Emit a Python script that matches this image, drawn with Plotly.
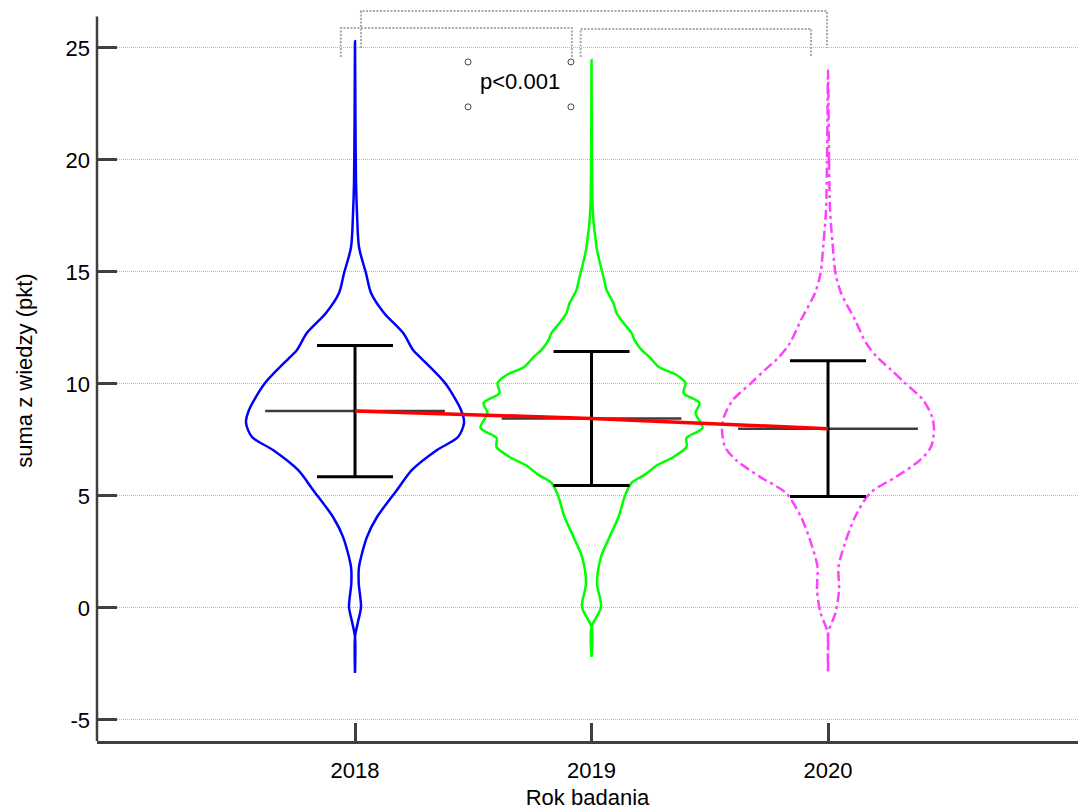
import plotly.graph_objects as go

# ---------------- data ----------------
years = [2018, 2019, 2020]
year_labels = ["2018", "2019", "2020"]
means = [8.79, 8.46, 8.00]
sds = [2.93, 2.99, 3.03]

# violin outlines: y level and relative half-width (density)
v2018_y = [25.3, 22.0, 19.0, 17.6, 16.1, 14.94, 14.06, 13.17, 12.28, 11.52, 11.2, 10.04,
           8.84, 8.26, 7.63, 7.05, 6.16, 5.27, 4.06, 3.17, 1.83, 1.1, 0.04, -0.67, -1.3, -2.9]
v2018_w = [0, 0.4, 1, 2, 4, 11, 16, 29, 48, 58, 65, 90,
           106, 109, 103, 82, 57, 42, 22, 12, 4, 3.7, 6, 2.7, 0, 0]

v2019_y = [24.46, 21.0, 18.0, 17.0, 16.5, 15.98, 15.24, 14.64, 14.2, 13.6, 13.17, 12.72, 12.28,
           11.96, 11.52, 11.2, 10.77, 10.4, 10.04, 9.6, 9.15, 8.7, 8.04, 7.59, 7.19, 6.74,
           6.38, 5.94, 5.58, 4.96, 4.5, 4.06, 3.17, 2.28, 1.1, 0.04, -0.85, -2.19]
v2019_w = [0, 0.3, 1, 2.5, 4, 5.5, 9.3, 12.7, 15, 22, 25, 32, 40,
           43, 50, 58, 67, 85, 94, 92, 108, 104, 111, 95, 95, 82,
           66, 53, 40, 33, 30, 27, 18, 9.5, 5.5, 9.5, 0, 0]

v2020_y = [24.0, 20.0, 17.77, 16.3, 14.94, 14.06, 12.86, 11.83, 11.2, 10.63, 10.04, 9.29,
           8.54, 7.95, 7.19, 6.6, 5.85, 5.13, 4.06, 2.9, 1.83, 0.8, -0.22, -0.98, -1.3, -2.9]
v2020_w = [0, 1, 2, 4.5, 7.5, 13, 27, 38, 49, 63, 77, 95,
           104, 106, 103, 92, 68, 42, 27, 17, 10.5, 11, 7.5, 1, 0, 0]

# significance brackets: (left group, right group, p label)
pairs = [(2018, 2020), (2018, 2019), (2019, 2020)]
p_text = "p<0.001"

# ---------------- figure ----------------
WSCALE = 1 / 236.5  # width of density units in x-axis units

fig = go.Figure()

violins = [
    (2018, v2018_y, v2018_w, "#0000ff", "solid"),
    (2019, v2019_y, v2019_w, "#00ff00", "solid"),
    (2020, v2020_y, v2020_w, "#ff40ff", "10px,4px,3px,4px"),
]
for c, ys, ws, col, dash in violins:
    xr = [c + w * WSCALE for w in ws]
    xl = [c - w * WSCALE for w in ws]
    fig.add_trace(go.Scatter(
        x=xr + xl[::-1], y=ys + ys[::-1], mode="lines",
        line=dict(color=col, width=2.5, dash=dash, shape="spline", smoothing=0.8),
        hoverinfo="skip", showlegend=False))

# mean lines
for c, m in zip(years, means):
    fig.add_trace(go.Scatter(x=[c - 0.38, c + 0.38], y=[m, m], mode="lines",
                             line=dict(color="#3c3c3c", width=2.5),
                             showlegend=False, hoverinfo="skip"))

# error bars (mean +/- sd)
fig.add_trace(go.Scatter(
    x=years, y=means, mode="markers",
    marker=dict(size=2, color="rgba(0,0,0,0)"),
    error_y=dict(type="data", array=sds, thickness=3, width=38, color="black"),
    showlegend=False, hoverinfo="skip"))

# trend line through means
fig.add_trace(go.Scatter(x=years, y=means, mode="lines",
                         line=dict(color="#ff0000", width=3.5),
                         showlegend=False, hoverinfo="skip"))

# brackets
bracket_geom = [
    (2018.025, 2019.996, 26.65, 25.0),
    (2017.94, 2018.917, 25.89, 24.6),
    (2018.954, 2019.928, 25.85, 24.6),
]
for (a, b), (x0, x1, top, bot) in zip(pairs, bracket_geom):
    fig.add_trace(go.Scatter(x=[x0, x0, x1, x1], y=[bot, top, top, bot], mode="lines",
                             line=dict(color="#a8a8a8", width=2, dash="2px,1.5px"),
                             showlegend=False, hoverinfo="skip"))

# text box handles + label
fig.add_trace(go.Scatter(x=[2018.478, 2018.913, 2018.478, 2018.913],
                         y=[24.375, 24.375, 22.37, 22.37], mode="markers",
                         marker=dict(symbol="circle-open", size=6, color="#444444",
                                     line=dict(width=1)),
                         showlegend=False, hoverinfo="skip"))
fig.add_annotation(x=2018.698, y=23.48, text=p_text, showarrow=False,
                   font=dict(size=22, color="black", family="Liberation Sans, Arial"))

# y axis line (shape, stops below the brackets)
fig.add_shape(type="line", xref="paper", x0=0, x1=0, yref="y", y0=-5.94, y1=26.4,
              line=dict(color="#404040", width=2.5))

fig.update_layout(
    width=1078, height=811,
    margin=dict(l=97, r=0, t=0, b=70),
    paper_bgcolor="white", plot_bgcolor="white",
    font=dict(family="Liberation Sans, Arial", size=22, color="black"),
    showlegend=False,
    xaxis=dict(range=[2016.909, 2021.057], tickvals=years, ticktext=year_labels,
               showgrid=False, zeroline=False, showline=True, linecolor="#404040",
               linewidth=2.5, ticks="inside", ticklen=18, tickwidth=2.5,
               tickcolor="#404040", ticklabelstandoff=8,
               title=dict(text="Rok badania", font=dict(size=22), standoff=8)),
    yaxis=dict(range=[-5.94, 27.14], tickvals=[-5, 0, 5, 10, 15, 20, 25],
               ticktext=["-5", "0", "5", "10", "15", "20", "25"],
               showgrid=True, gridcolor="#b8b8b8", griddash="1px,1px", gridwidth=1,
               zeroline=False, showline=False, ticks="inside", ticklen=20,
               tickwidth=2.5, tickcolor="#404040", ticklabelstandoff=6,
               title=dict(text="suma z wiedzy (pkt)", font=dict(size=22), standoff=26)),
)

fig.write_html("out.html")
